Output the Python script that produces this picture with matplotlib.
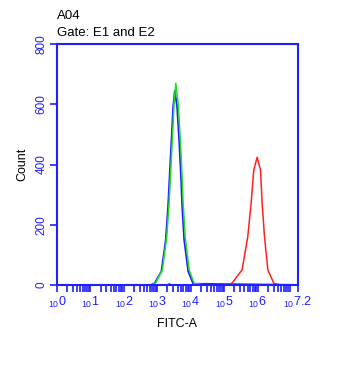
import numpy as np
import matplotlib.pyplot as plt
from matplotlib.ticker import FixedLocator

plt.rcParams['font.family'] = ['Liberation Sans', 'DejaVu Sans']

# log10(FITC-A) positions and counts
green_x = [2.55, 2.80, 2.93, 3.13, 3.26, 3.33, 3.38, 3.43, 3.48, 3.53,
           3.60, 3.66, 3.71, 3.75, 3.81, 3.93, 4.08, 4.40]
green_y = [0, 0, 7, 50, 160, 272, 382, 492, 604, 670,
           604, 492, 382, 272, 160, 50, 5, 0]

blue_x = [0.0, 2.80, 2.92, 3.12, 3.25, 3.32, 3.37, 3.42, 3.47, 3.52,
          3.59, 3.65, 3.70, 3.74, 3.80, 3.92, 4.07, 7.2]
blue_y = [0, 0, 6, 45, 150, 262, 372, 480, 590, 645,
          590, 480, 372, 262, 150, 45, 4, 0]

red_x = [3.30, 3.36, 3.42, 4.55, 5.05, 5.23, 5.53, 5.70, 5.80, 5.88,
         5.98, 6.08, 6.13, 6.20, 6.30, 6.48, 6.70]
red_y = [0, 4, 0, 0, 0, 6, 50, 160, 271, 382,
         424, 382, 271, 160, 50, 5, 0]

yticks = [0, 200, 400, 600, 800]
decades = [0, 1, 2, 3, 4, 5, 6]

blue = '#1f1fff'

fig = plt.figure(figsize=(3.56, 3.84), dpi=100)
ax = fig.add_axes([0.160, 0.258, 0.677, 0.627])

ax.plot(blue_x, blue_y, color=blue, lw=1.3)
ax.plot(np.array(green_x) + 0.02, green_y, color='#22dd22', lw=1.1)
ax.plot(red_x, red_y, color='#ff2020', lw=1.1)

ax.set_xlim(0, 7.2)
ax.set_ylim(0, 800)

for s in ax.spines.values():
    s.set_color(blue)
    s.set_linewidth(1.5)

minor = [d + np.log10(k) for d in decades for k in range(2, 10)]
ax.xaxis.set_major_locator(FixedLocator(decades + [7.2]))
ax.xaxis.set_minor_locator(FixedLocator(minor))
ax.set_xticklabels([r'$\mathregular{_{10}%d}$' % d for d in decades] + [r'$\mathregular{_{10}7.2}$'])
ax.tick_params(axis='x', which='both', direction='out', colors=blue, length=5,
               width=1.2, labelsize=9, pad=2)

ax.set_yticks(yticks)
ax.set_yticklabels([str(v) for v in yticks], rotation=90, va='center')
ax.tick_params(axis='y', direction='out', colors=blue, length=5, width=1.2,
               labelsize=8.5, pad=2)

ax.set_xlabel('FITC-A', fontsize=9, labelpad=6)
ax.set_ylabel('Count', fontsize=9, labelpad=5)

fig.text(0.160, 0.943, 'A04', fontsize=9.5, va='bottom')
fig.text(0.160, 0.898, 'Gate: E1 and E2', fontsize=9.5, va='bottom')

fig.savefig('out.png', dpi=100)
